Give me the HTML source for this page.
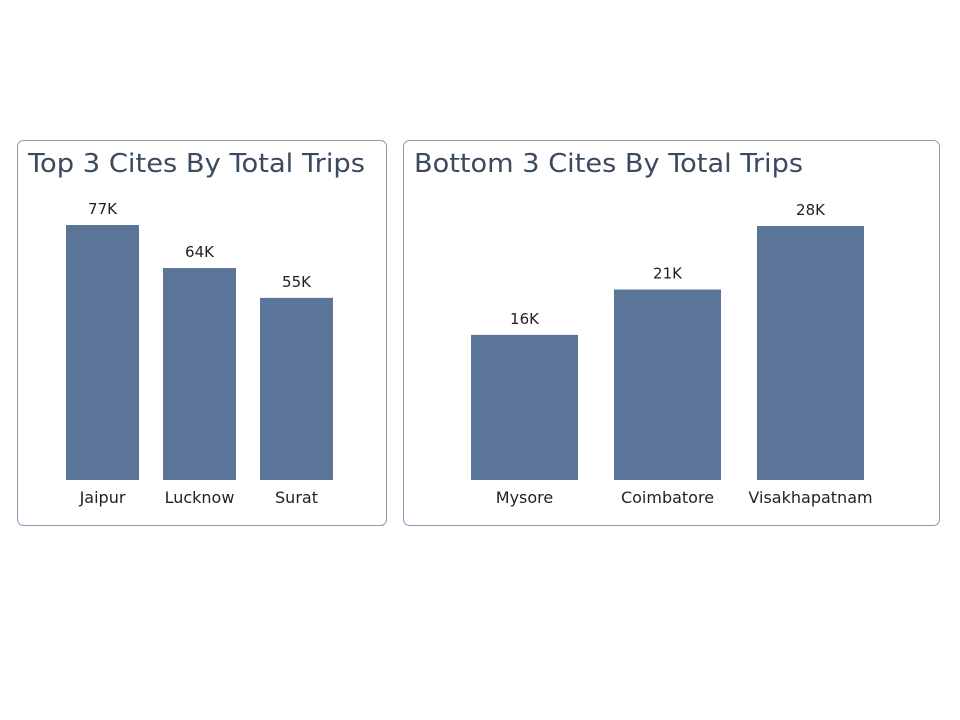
<!DOCTYPE html>
<html><head><meta charset="utf-8"><style>
body{margin:0;background:#fff;width:960px;height:720px;overflow:hidden;font-family:"DejaVu Sans","Liberation Sans",sans-serif}
svg{position:absolute;left:0;top:0}
</style></head><body>
<svg width="960" height="720">
<rect x="17.5" y="140.5" width="369" height="385" rx="6" fill="#fff" stroke="#8a9bb0"/>
<rect x="403.5" y="140.5" width="536" height="385" rx="6" fill="#fff" stroke="#8a9bb0"/>
<text x="28" y="172" font-size="26" fill="#3a4a60" textLength="337" lengthAdjust="spacingAndGlyphs">Top 3 Cites By Total Trips</text>
<text x="414" y="172" font-size="26" fill="#3a4a60" textLength="389" lengthAdjust="spacingAndGlyphs">Bottom 3 Cites By Total Trips</text>
<g id="g1"></g><g id="g2"></g>
</svg>
<script>
const topCities=["Jaipur","Lucknow","Surat"];
const topTrips=[77,64,55];
const topLabels=["77K","64K","55K"];
const botCities=["Mysore","Coimbatore","Visakhapatnam"];
const botTrips=[16,21,28];
const botLabels=["16K","21K","28K"];
const NS="http://www.w3.org/2000/svg";
function draw(g,cats,vals,labs,x0,step,bw,pxPerK,prefix){
  const base=480;
  cats.forEach((c,i)=>{
    const h=vals[i]*pxPerK, x=x0+i*step;
    const r=document.createElementNS(NS,"rect");
    r.setAttribute("x",x);r.setAttribute("y",base-h);r.setAttribute("width",bw);r.setAttribute("height",h);r.setAttribute("fill","#5a7597");
    
    
    g.appendChild(r);
    const t=document.createElementNS(NS,"text");
    t.setAttribute("x",x+bw/2);t.setAttribute("y",base-h-11);t.setAttribute("text-anchor","middle");t.setAttribute("font-size","15");t.setAttribute("fill","#222");
    t.textContent=labs[i];
    
    
    g.appendChild(t);
    const l=document.createElementNS(NS,"text");
    l.setAttribute("x",x+bw/2);l.setAttribute("y",503);l.setAttribute("text-anchor","middle");l.setAttribute("font-size","16");l.setAttribute("fill","#222");
    l.textContent=c;
    
    
    g.appendChild(l);
  });
}
draw(document.getElementById("g1"),topCities,topTrips,topLabels,66,97,73,255/77);
draw(document.getElementById("g2"),botCities,botTrips,botLabels,471,143,107,254/28);
</script>
</body></html>
